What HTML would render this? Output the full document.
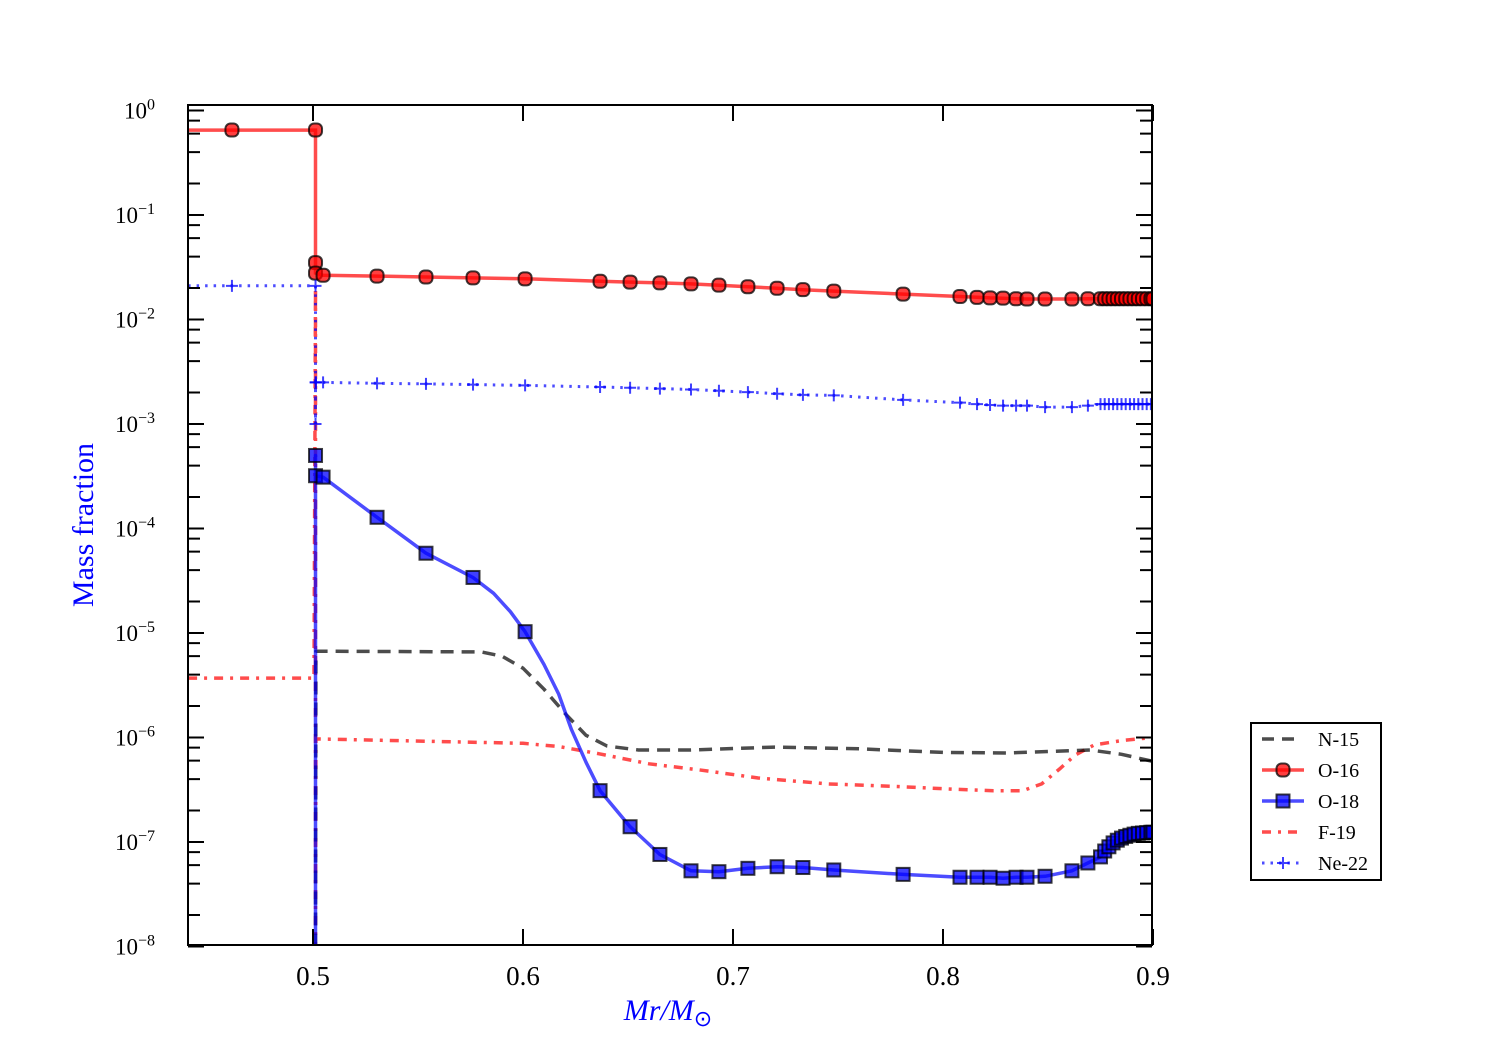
<!DOCTYPE html>
<html><head><meta charset="utf-8"><style>
body{margin:0;background:#fff}
svg text{font-family:"Liberation Serif",serif}
</style></head><body>
<svg id="chart" width="1500" height="1050" xmlns="http://www.w3.org/2000/svg">
<rect width="1500" height="1050" fill="#fff"/>
<g id="series"></g>
<g id="axes"></g>
<g id="legend">
<rect x="1251" y="723" width="130" height="157" fill="#fff" stroke="#000" stroke-width="2"/>
</g>
<text x="668" y="1020" text-anchor="middle" fill="#0000ff" font-size="30" font-style="italic">Mr/M<tspan font-style="normal" font-size="22" dy="6">⊙</tspan></text>
<text transform="translate(93,525) rotate(-90)" text-anchor="middle" fill="#0000ff" font-size="30">Mass fraction</text>
</svg>
<script>
const xTicks=[0.5,0.6,0.7,0.8,0.9];
const xTickLabels=["0.5","0.6","0.7","0.8","0.9"];
const yDecades=[0,-1,-2,-3,-4,-5,-6,-7,-8];
const dense=[0.877,0.879,0.881,0.883,0.885,0.887,0.889,0.891,0.893,0.895,0.897,0.899,0.9];
const common=[0.5048,0.5305,0.5538,0.5762,0.601,0.6367,0.651,0.6652,0.68,0.6933,0.7071,0.721,0.7333,0.748,0.781,0.8081,0.8162,0.8224,0.8286,0.8348,0.84,0.8486,0.8614,0.869,0.875];
const o16Mass=[0.4405,0.4614,0.5012,0.5012,0.5012].concat(common,dense);
const o16Vals=[0.65,0.65,0.65,0.035,0.0278,0.0265,0.026,0.0255,0.025,0.0245,0.0232,0.0228,0.0224,0.0219,0.0213,0.0206,0.0199,0.0193,0.0187,0.0175,0.0166,0.0163,0.0161,0.016,0.0158,0.0157,0.0157,0.0157,0.0158,0.0158,
0.0158,0.0158,0.0158,0.0158,0.0158,0.0158,0.0158,0.0158,0.0158,0.0158,0.0158,0.0158,0.0158];
const o18Mass=[0.5012,0.5012,0.5012].concat(common,dense);
const o18Vals=[1e-8,5e-4,3.2e-4,3.1e-4,1.28e-4,5.8e-5,3.4e-5,1.03e-5,3.1e-7,1.4e-7,7.6e-8,5.3e-8,5.2e-8,5.6e-8,5.8e-8,5.7e-8,5.4e-8,4.9e-8,4.6e-8,4.6e-8,4.6e-8,4.5e-8,4.6e-8,4.6e-8,4.7e-8,5.3e-8,6.3e-8,7.2e-8,
8.2e-8,9.0e-8,9.8e-8,1.04e-7,1.09e-7,1.13e-7,1.16e-7,1.19e-7,1.21e-7,1.22e-7,1.23e-7,1.24e-7,1.24e-7];
const o18LineMass=[0.586,0.594,0.61,0.617,0.623,0.63];
const o18LineVals=[2.4e-5,1.6e-5,5.0e-6,2.6e-6,1.2e-6,5.8e-7];
const ne22Mass=[0.4405,0.4614,0.5012,0.5012,0.5012,0.5014].concat(common,dense);
const ne22Vals=[0.021,0.021,0.021,1e-3,2.5e-3,2.5e-3,2.5e-3,2.45e-3,2.42e-3,2.38e-3,2.34e-3,2.26e-3,2.22e-3,2.18e-3,2.14e-3,2.08e-3,2.02e-3,1.95e-3,1.9e-3,1.88e-3,1.7e-3,1.6e-3,1.55e-3,1.52e-3,1.5e-3,1.5e-3,1.5e-3,1.45e-3,1.45e-3,1.5e-3,1.55e-3,
1.55e-3,1.55e-3,1.55e-3,1.55e-3,1.55e-3,1.55e-3,1.55e-3,1.55e-3,1.55e-3,1.55e-3,1.55e-3,1.55e-3,1.55e-3];
const n15Mass=[0.5012,0.5014,0.58,0.59,0.6,0.61,0.62,0.63,0.64,0.655,0.68,0.72,0.76,0.8,0.83,0.87,0.885,0.9];
const n15Vals=[1e-8,6.7e-6,6.6e-6,6.0e-6,4.6e-6,2.9e-6,1.7e-6,1.05e-6,8.3e-7,7.6e-7,7.6e-7,8.1e-7,7.8e-7,7.2e-7,7.1e-7,7.6e-7,6.9e-7,5.9e-7];
const f19Mass=[0.4405,0.5005,0.5012,0.5012,0.5014,0.6,0.617,0.636,0.66,0.684,0.712,0.745,0.778,0.805,0.824,0.838,0.847,0.856,0.863,0.872,0.886,0.9];
const f19Vals=[3.7e-6,3.7e-6,0.02,1e-8,9.7e-7,8.8e-7,8.2e-7,7.0e-7,5.6e-7,4.9e-7,4.1e-7,3.6e-7,3.4e-7,3.2e-7,3.1e-7,3.1e-7,3.6e-7,5.1e-7,6.8e-7,8.5e-7,9.4e-7,1.0e-6];

const NS="http://www.w3.org/2000/svg";
const X0=188,X1=1152,Y0=105,Y1=945;
function xs(m){return 313+2100*(m-0.5);}
function ys(v){return 110.5-104.5*Math.log10(v);}
function mk(tag,attrs,parent){const e=document.createElementNS(NS,tag);for(const k in attrs)e.setAttribute(k,attrs[k]);parent.appendChild(e);return e;}
const S=document.getElementById('series'),A=document.getElementById('axes'),L=document.getElementById('legend');
const clip=mk('clipPath',{id:'pc'},mk('defs',{},document.getElementById('chart')));
mk('rect',{x:X0,y:Y0,width:X1-X0,height:Y1-Y0},clip);
S.setAttribute('clip-path','url(#pc)');
function pts(ms,vs){return ms.map((m,i)=>xs(m).toFixed(1)+','+ys(vs[i]).toFixed(1)).join(' ');}
function merge(ms,vs,em,ev){const a=ms.map((m,i)=>[m,vs[i],i]);em.forEach((m,i)=>a.push([m,ev[i],999]));a.sort((p,q)=>p[0]-q[0]||p[2]-q[2]);return [a.map(p=>p[0]),a.map(p=>p[1])];}

let p;
p=mk('polyline',{points:pts(f19Mass,f19Vals),fill:'none',stroke:'#ff0000','stroke-opacity':0.7,'stroke-width':3.5,'stroke-dasharray':'9,7,3,7','stroke-linejoin':'round'},S);

p=mk('polyline',{points:pts(n15Mass,n15Vals),fill:'none',stroke:'#000','stroke-opacity':0.7,'stroke-width':3.5,'stroke-dasharray':'13,8','stroke-linejoin':'round'},S);

p=mk('polyline',{points:pts(o16Mass,o16Vals),fill:'none',stroke:'#ff0000','stroke-opacity':0.7,'stroke-width':3.5},S);

const o18m=merge(o18Mass,o18Vals,o18LineMass,o18LineVals);
p=mk('polyline',{points:pts(o18m[0],o18m[1]),fill:'none',stroke:'#0000ff','stroke-opacity':0.7,'stroke-width':3.5,'stroke-linejoin':'round'},S);

p=mk('polyline',{points:pts(ne22Mass,ne22Vals),fill:'none',stroke:'#0000ff','stroke-opacity':0.7,'stroke-width':3,'stroke-dasharray':'2.5,6'},S);


o16Mass.forEach((m,i)=>{if(i===0)return;
 const c=mk('rect',{x:xs(m)-6.5,y:ys(o16Vals[i])-6.5,width:13,height:13,rx:5,fill:'rgba(255,0,0,0.75)',stroke:'rgba(0,0,0,0.75)','stroke-width':2},S);
 });
o18Mass.forEach((m,i)=>{if(i===0)return;
 const c=mk('rect',{x:xs(m)-6.5,y:ys(o18Vals[i])-6.5,width:13,height:13,fill:'rgba(0,0,255,0.75)',stroke:'rgba(0,0,0,0.75)','stroke-width':2},S);
 });
ne22Mass.forEach((m,i)=>{if(i===0)return;
 const x=xs(m),y=ys(ne22Vals[i]);
 const c=mk('path',{d:`M${x-6},${y}h12M${x},${y-6}v12`,stroke:'rgba(0,0,255,0.75)','stroke-width':2},S);
 });

// axes
const fr=mk('rect',{x:X0,y:Y0,width:X1-X0,height:Y1-Y0,fill:'none',stroke:'#000','stroke-width':2},A);

xTicks.forEach((t,i)=>{const x=xs(t);
 mk('path',{d:`M${x},${Y1}v-16M${x},${Y0}v16`,stroke:'#000','stroke-width':2},A);
 const tx=mk('text',{x:x,y:985,'text-anchor':'middle','font-size':27},A);tx.textContent=xTickLabels[i];
 });
yDecades.forEach(d=>{const y=ys(Math.pow(10,d));
 mk('path',{d:`M${X0},${y}h16M${X1},${y}h-16`,stroke:'#000','stroke-width':2},A);
 const tx=mk('text',{x:155,y:y+8,'text-anchor':'end','font-size':23},A);
 
 tx.textContent='10';const ts=mk('tspan',{'font-size':16,dy:-9},tx);ts.textContent=d===0?'0':'−'+(-d);
 if(d>-8)[2,4,6,8].forEach(k=>{const yy=ys(k*Math.pow(10,d-1));
  mk('path',{d:`M${X0},${yy}h12M${X1},${yy}h-12`,stroke:'#000','stroke-width':2},A);});
});
// legend
const legNames=['N-15','O-16','O-18','F-19','Ne-22'];
legNames.forEach((n,i)=>{const y=739+31*i;const g=mk('g',{},L);
 
 if(i===0)mk('path',{d:`M1262,${y}h40`,stroke:'rgba(0,0,0,0.7)','stroke-width':3.5,'stroke-dasharray':'12,8'},g);
 if(i===1){mk('path',{d:`M1262,${y}h42`,stroke:'rgba(255,0,0,0.7)','stroke-width':3.5},g);mk('rect',{x:1276.5,y:y-6.5,width:13,height:13,rx:5,fill:'rgba(255,0,0,0.75)',stroke:'rgba(0,0,0,0.75)','stroke-width':2},g);}
 if(i===2){mk('path',{d:`M1262,${y}h42`,stroke:'rgba(0,0,255,0.7)','stroke-width':3.5},g);mk('rect',{x:1276.5,y:y-6.5,width:13,height:13,fill:'rgba(0,0,255,0.75)',stroke:'rgba(0,0,0,0.75)','stroke-width':2},g);}
 if(i===3)mk('path',{d:`M1262,${y}h40`,stroke:'rgba(255,0,0,0.7)','stroke-width':3.5,'stroke-dasharray':'9,7,3,7'},g);
 if(i===4){mk('path',{d:`M1262,${y}h40`,stroke:'rgba(0,0,255,0.7)','stroke-width':3,'stroke-dasharray':'2.5,6'},g);mk('path',{d:`M1277,${y}h12M1283,${y-6}v12`,stroke:'rgba(0,0,255,0.75)','stroke-width':2},g);}
 const t=mk('text',{x:1318,y:y+7,'font-size':20},g);t.textContent=n;});
</script>
</body></html>
